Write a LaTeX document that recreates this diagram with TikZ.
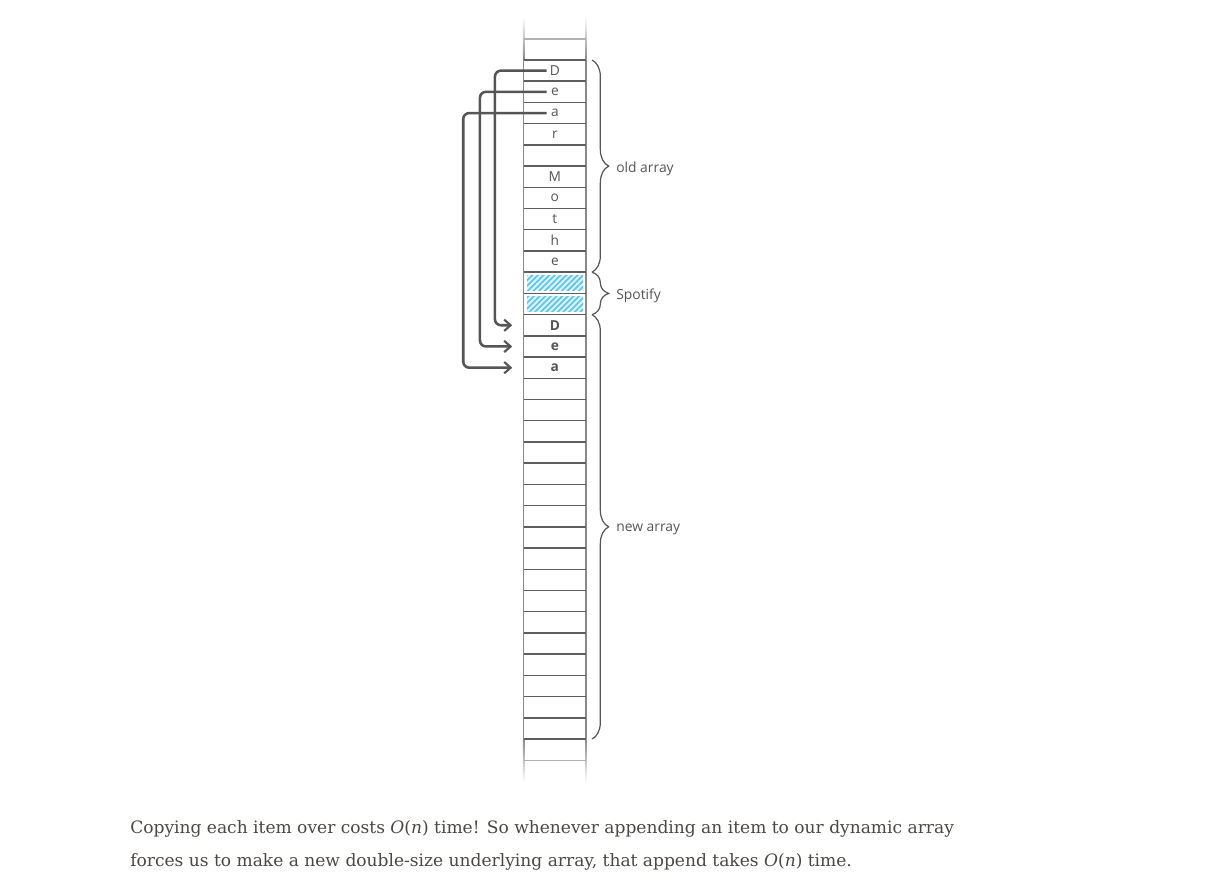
\documentclass[tikz,border=0pt]{standalone}
\usepackage{fontspec}
\setsansfont{Open Sans}
\newfontfamily\bodyfont{DejaVu Serif}
\usetikzlibrary{arrows.meta,decorations.pathreplacing,patterns.meta,calc}
\definecolor{ink}{HTML}{555555}
\definecolor{colgray}{HTML}{8A8A8A}
\definecolor{rowgray}{HTML}{5E5E5E}
\definecolor{lightrow}{HTML}{B0B0B0}
\definecolor{hatchbg}{HTML}{D6F1FA}
\definecolor{hatchline}{HTML}{5CC3E4}
\definecolor{textgray}{HTML}{4A4744}
\begin{document}
\begin{tikzpicture}[x=0.75pt,y=-0.75pt,
  cell/.style={minimum width=46.725pt, minimum height=15.915pt, inner sep=0pt, outer sep=0pt,
    font=\sffamily\fontsize{10.3}{12}\selectfont, text=ink},
  rowline/.style={draw=rowgray, line width=1.1pt},
  colline/.style={draw=colgray, line width=1.1pt},
  conn/.style={draw=ink, line width=1.9pt, rounded corners=4.5pt,
    -{Straight Barb[length=4.8pt,width=8.5pt,line width=1.6pt]}},
  bracestyle/.style={draw=ink, line width=0.9pt, decorate,
    decoration={brace, amplitude=12.5pt}},
  lbl/.style={anchor=west, inner sep=0pt, font=\sffamily\fontsize{10.4}{12}\selectfont, text=ink},
  body/.style={anchor=base west, inner sep=0pt, font=\bodyfont\fontsize{12.8}{16}\selectfont, text=textgray}
]
\useasboundingbox (0,0) rectangle (1214,881);

% cells
\node[cell] (ct) at (554.85, {60-0.5*21.22}) {};
\foreach \i/\t in {0/D,1/e,2/a,3/r,4/{},5/M,6/o,7/t,8/h,9/e,10/{},11/{},12/{\textbf{D}},13/{\textbf{e}},14/{\textbf{a}}}
  \node[cell] (c\i) at (554.85, {60+(\i+0.5)*21.22}) {\t};
\foreach \i in {15,...,31}
  \node[cell] (c\i) at (554.85, {60+(\i+0.5)*21.22}) {};
\node[cell] (cb) at (554.85, {60+32.5*21.22}) {};

% hatched (Spotify) cells
\foreach \i in {10,11}{
  \fill[hatchbg] ($(c\i.north west)+(3.5,3)$) rectangle ($(c\i.south east)+(-3,-3)$);
  \fill[pattern={Lines[angle=45,distance=3pt,line width=1.2pt]}, pattern color=hatchline]
    ($(c\i.north west)+(3.5,3)$) rectangle ($(c\i.south east)+(-3,-3)$);
}

% vertical column lines
\draw[colline] (c0.north west) -- (c31.south west);
\draw[colline] (c0.north east) -- (c31.south east);
\shade[top color=white, bottom color=colgray] ($(ct.north west)+(-0.73,-22)$) rectangle ($(c0.north west)+(0.73,0)$);
\shade[top color=white, bottom color=colgray] ($(ct.north east)+(-0.73,-22)$) rectangle ($(c0.north east)+(0.73,0)$);
\shade[top color=colgray, bottom color=white] ($(c31.south west)+(-0.73,0)$) rectangle ($(cb.south west)+(0.73,22)$);
\shade[top color=colgray, bottom color=white] ($(c31.south east)+(-0.73,0)$) rectangle ($(cb.south east)+(0.73,22)$);

% horizontal row lines
\draw[draw=lightrow, line width=1.1pt] (ct.north west) -- (ct.north east);
\draw[draw=lightrow, line width=1.1pt] (cb.south west) -- (cb.south east);
\foreach \i in {0,...,31}
  \draw[rowline] (c\i.north west) -- (c\i.north east);
\draw[rowline] (c31.south west) -- (c31.south east);

% braces and labels
\draw[bracestyle] ($(c0.north east)+(6,0)$) -- ($(c9.south east)+(6,0)$);
\draw[bracestyle] ($(c10.north east)+(6,0)$) -- ($(c11.south east)+(6,0)$);
\draw[bracestyle] ($(c12.north east)+(6,0)$) -- ($(c31.south east)+(6,0)$);
\node[lbl] (lold) at ($(c4.south east)+(30,2.5)$) {old array};
\node[lbl] (lspot) at ($(c10.south east)+(30,2.5)$) {Spotify};
\node[lbl] (lnew) at ($(c21.south east)+(30,3)$) {new array};

% copy connectors
\draw[conn] ($(c0.center)+(-8.2,0)$) -- ++(-51.7,0) |- ($(c12.west)+(-11.5,0)$);
\draw[conn] ($(c1.center)+(-8.2,0)$) -- ++(-66.7,0) |- ($(c13.west)+(-11.5,0)$);
\draw[conn] ($(c2.center)+(-8.2,0)$) -- ++(-83.4,0) |- ($(c14.west)+(-11.5,0)$);

% caption text
\node[body] (t1) at (130,833) {Copying each item over costs \textit{O}(\textit{n}) time! So whenever appending an item to our dynamic array};
\node[body] (t2) at (130,866) {forces us to make a new double-size underlying array, that append takes \textit{O}(\textit{n}) time.};
\end{tikzpicture}
\end{document}
